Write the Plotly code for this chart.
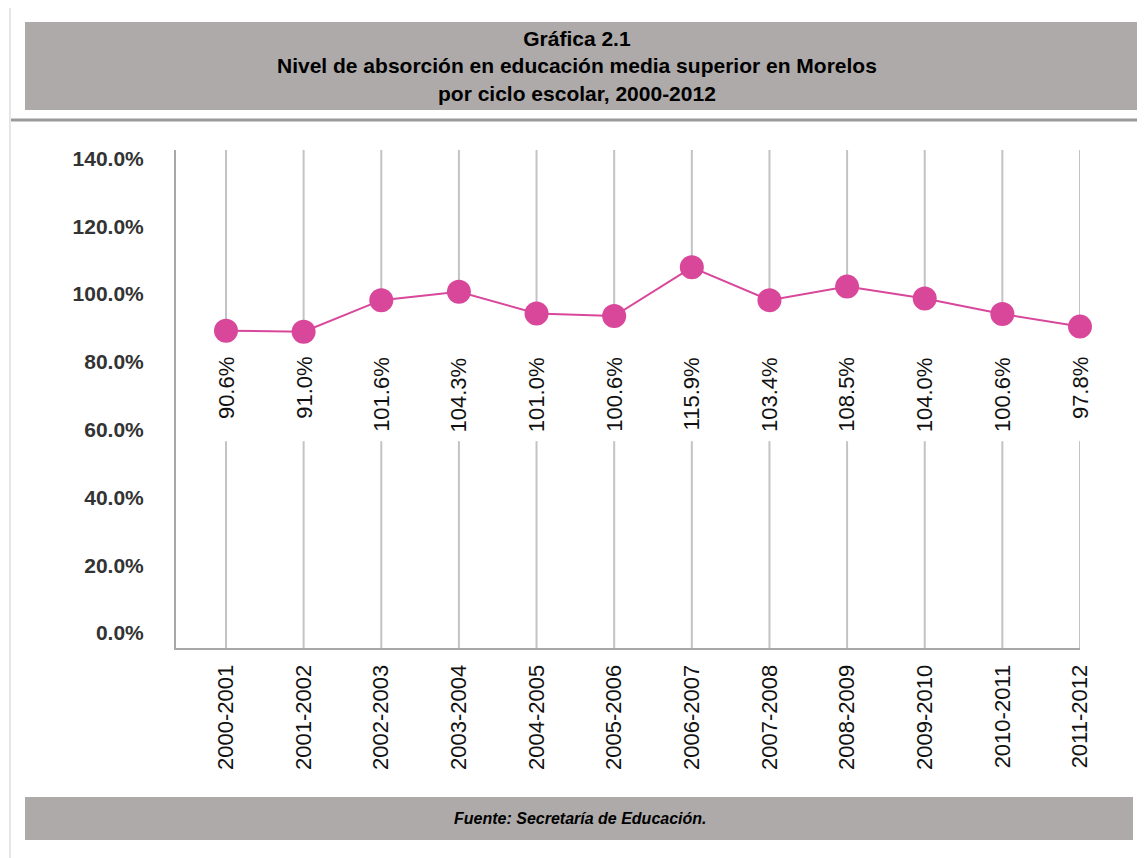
import plotly.graph_objects as go

ciclos = ["2000-2001", "2001-2002", "2002-2003", "2003-2004", "2004-2005", "2005-2006",
          "2006-2007", "2007-2008", "2008-2009", "2009-2010", "2010-2011", "2011-2012"]
# position of the dots as drawn in the original picture
nivel_grafico = [89.2, 88.9, 98.2, 100.7, 94.3, 93.5, 107.9, 98.2, 102.2, 98.7, 94.1, 90.4]
# printed data labels
etiquetas = ["90.6%", "91.0%", "101.6%", "104.3%", "101.0%", "100.6%",
             "115.9%", "103.4%", "108.5%", "104.0%", "100.6%", "97.8%"]
y_ticks = [0, 20, 40, 60, 80, 100, 120, 140]
titulo = ["Gráfica 2.1",
          "Nivel de absorción en educación media superior en Morelos",
          "por ciclo escolar, 2000-2012"]
fuente = "Fuente: Secretaría de Educación."

# page has an 8px body margin, so the figure is a bit smaller than the window
W, H = 1137, 850
PL, PR, PT, PB = 176, 1080, 150, 648      # plot area in window pixels
L, R, T, B = PL - 8, W - (PR - 8), PT - 8, H - (PB - 8)
Y_MIN, Y_MAX = -4.4, 142.5
LABEL_TOP = 82.0
GAP_BOTTOM = 56.6
FONT = "Liberation Sans, Arial, Helvetica"

xs = list(range(len(ciclos)))


def px_x(px):
    return (px - PL) / (PR - PL)


def px_y(py):
    return (PB - py) / (PB - PT)


# vertical grid lines, broken between the dot and the bottom of the label
gx, gy = [], []
for i, v in zip(xs, nivel_grafico):
    gx += [i, i, None, i, i, None]
    gy += [Y_MAX, v, None, GAP_BOTTOM, Y_MIN, None]

fig = go.Figure()
fig.add_trace(go.Scatter(x=gx, y=gy, mode="lines", line=dict(color="#c3c3c7", width=2),
                         hoverinfo="skip", showlegend=False, cliponaxis=False))
fig.add_trace(go.Scatter(x=xs, y=nivel_grafico, mode="lines+markers",
                         line=dict(color="#d9479b", width=2),
                         marker=dict(size=24, color="#d9479b"),
                         showlegend=False, cliponaxis=False))

for i, t in zip(xs, etiquetas):
    fig.add_annotation(x=i, y=LABEL_TOP, text=t, textangle=-90, showarrow=False,
                       xanchor="center", yanchor="top",
                       font=dict(family=FONT, size=22, color="#111"))

# header box + rule, footer box
fig.add_shape(type="rect", xref="paper", yref="paper", x0=px_x(25), x1=px_x(1138),
              y0=px_y(110), y1=px_y(22), fillcolor="#aeaaa9", line=dict(width=0), layer="below")
fig.add_shape(type="line", xref="paper", yref="paper", x0=px_x(10), x1=px_x(1138),
              y0=px_y(120), y1=px_y(120), line=dict(color="#9a9a9a", width=3))
fig.add_shape(type="rect", xref="paper", yref="paper", x0=px_x(25), x1=px_x(1133),
              y0=px_y(840), y1=px_y(797), fillcolor="#aeaaa9", line=dict(width=0), layer="below")
fig.add_shape(type="line", xref="paper", yref="paper", x0=px_x(10), x1=px_x(10),
              y0=px_y(858), y1=px_y(8), line=dict(color="#e6e6e6", width=2))

fig.add_annotation(xref="paper", yref="paper", x=px_x(577), y=px_y(66),
                   text="<b>" + "<br>".join(titulo) + "</b>", showarrow=False,
                   xanchor="center", yanchor="middle",
                   font=dict(family=FONT, size=21, color="#000"))
fig.add_annotation(xref="paper", yref="paper", x=px_x(580), y=px_y(818),
                   text="<b><i>%s</i></b>" % fuente,
                   showarrow=False, xanchor="center", yanchor="middle",
                   font=dict(family=FONT, size=16, color="#000"))

fig.update_xaxes(range=[-0.644, 11], tickvals=xs, ticktext=ciclos, tickangle=-90,
                 showgrid=False, zeroline=False, showline=True, linecolor="#a8a8a8",
                 linewidth=2, ticks="", ticklabelstandoff=6,
                 tickfont=dict(family=FONT, size=22, color="#111"))
fig.update_yaxes(range=[Y_MIN, Y_MAX], tickvals=y_ticks,
                 ticktext=["<b>%.1f%%</b>" % v for v in y_ticks],
                 showgrid=False, zeroline=False, showline=True, linecolor="#a8a8a8",
                 linewidth=2, ticks="", ticklabelstandoff=26,
                 tickfont=dict(family=FONT, size=21, color="#333"))

fig.update_layout(
    width=W, height=H,
    margin=dict(l=L, r=R, t=T, b=B),
    paper_bgcolor="white",
    plot_bgcolor="white",
    font=dict(family=FONT),
)

fig.write_html("out.html")
